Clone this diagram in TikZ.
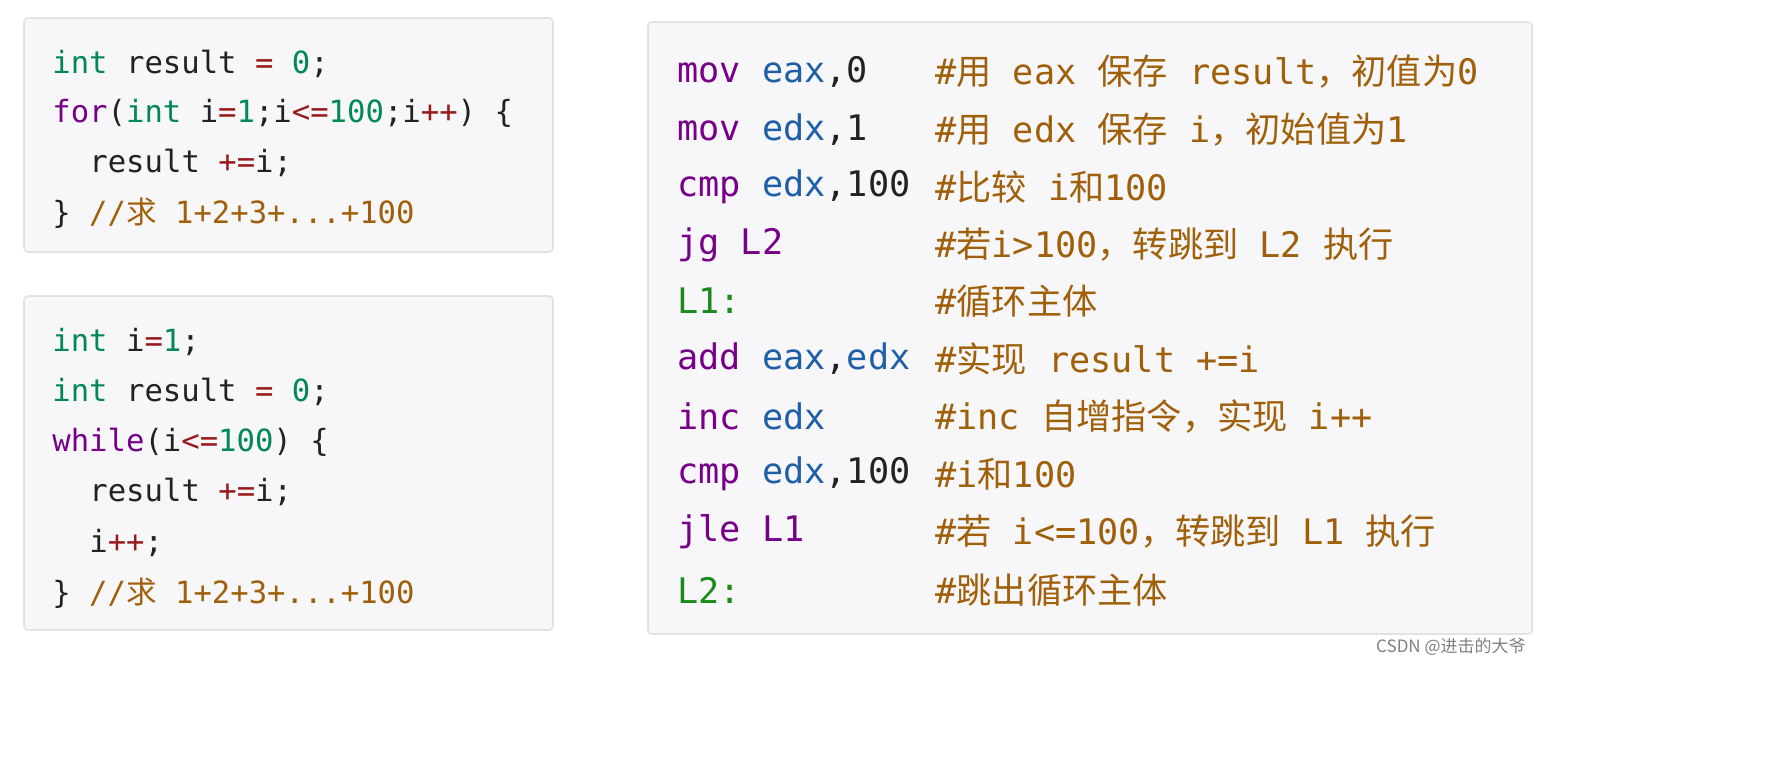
\documentclass[tikz,border=0pt]{standalone}
\usepackage{fontspec}
\setmonofont{DejaVu Sans Mono}
\newfontfamily\cjk{Noto Sans CJK SC}
\definecolor{kwcol}{HTML}{770088}
\definecolor{tycol}{HTML}{008855}
\definecolor{opcol}{HTML}{981A1A}
\definecolor{cmcol}{HTML}{A0600A}
\definecolor{rgcol}{HTML}{1F5FA8}
\definecolor{lbcol}{HTML}{1A8A1A}
\definecolor{txcol}{HTML}{222222}
\definecolor{boxfill}{HTML}{F7F7F9}
\definecolor{boxline}{HTML}{E2E2E6}
\newcommand{\kw}[1]{\textcolor{kwcol}{#1}}
\newcommand{\ty}[1]{\textcolor{tycol}{#1}}
\newcommand{\op}[1]{\textcolor{opcol}{#1}}
\newcommand{\cm}[1]{\textcolor{cmcol}{#1}}
\newcommand{\rg}[1]{\textcolor{rgcol}{#1}}
\newcommand{\lb}[1]{\textcolor{lbcol}{#1}}
\newcommand{\zh}[1]{{\cjk #1}}
\tikzset{
  codebox/.style={draw=boxline, fill=boxfill, rounded corners=2pt, line width=0.8pt},
  cline/.style={anchor=west, inner sep=0pt, text=txcol, font=\ttfamily\fontsize{15.3}{18}\selectfont},
  aline/.style={anchor=west, inner sep=0pt, text=txcol, font=\ttfamily\fontsize{17.6}{20}\selectfont}
}
\begin{document}
\begin{tikzpicture}[x=0.5pt,y=-0.5pt]
  \useasboundingbox (0,0) rectangle (1792,756);
  % boxes
  \draw[codebox] (24,18) rectangle (553,252);
  \draw[codebox] (24,296) rectangle (553,630);
  \draw[codebox] (648,22) rectangle (1532,634);

  % for loop
  \node[cline] (f1) at (52,64) {\ty{int} result \op{=} \ty{0};};
  \node[cline] (f2) at (52,113) {\kw{for}(\ty{int} i\op{=}\ty{1};i\op{<=}\ty{100};i\op{++}) \{};
  \node[cline] (f3) at (89,163) {result \op{+=}i;};
  \node[cline] (f4) at (52,213) {\} \cm{//\zh{求} 1+2+3+...+100}};

  % while loop
  \node[cline] (w1) at (52,342) {\ty{int} i\op{=}\ty{1};};
  \node[cline] (w2) at (52,392) {\ty{int} result \op{=} \ty{0};};
  \node[cline] (w3) at (52,442) {\kw{while}(i\op{<=}\ty{100}) \{};
  \node[cline] (w4) at (89,492) {result \op{+=}i;};
  \node[cline] (w5) at (89,543) {i\op{++};};
  \node[cline] (w6) at (52,593) {\} \cm{//\zh{求} 1+2+3+...+100}};

  % assembly
  \node[aline] (a1) at (677,72) {\kw{mov} \rg{eax},0};
  \node[aline] (a2) at (677,130) {\kw{mov} \rg{edx},1};
  \node[aline] (a3) at (677,187) {\kw{cmp} \rg{edx},100};
  \node[aline] (a4) at (677,245) {\kw{jg} \kw{L2}};
  \node[aline] (a5) at (677,301) {\lb{L1:}};
  \node[aline] (a6) at (677,359) {\kw{add} \rg{eax},\rg{edx}};
  \node[aline] (a7) at (677,416) {\kw{inc} \rg{edx}};
  \node[aline] (a8) at (677,474) {\kw{cmp} \rg{edx},100};
  \node[aline] (a9) at (677,532) {\kw{jle} \kw{L1}};
  \node[aline] (a10) at (677,590) {\lb{L2:}};

  \node[aline] (c1) at (935,72) {\cm{\#\zh{用} eax \zh{保存} result\zh{，初值为}0}};
  \node[aline] (c2) at (935,130) {\cm{\#\zh{用} edx \zh{保存} i\zh{，初始值为}1}};
  \node[aline] (c3) at (935,187) {\cm{\#\zh{比较} i\zh{和}100}};
  \node[aline] (c4) at (935,245) {\cm{\#\zh{若}i>100\zh{，转跳到} L2 \zh{执行}}};
  \node[aline] (c5) at (935,301) {\cm{\#\zh{循环主体}}};
  \node[aline] (c6) at (935,359) {\cm{\#\zh{实现} result +=i}};
  \node[aline] (c7) at (935,416) {\cm{\#inc \zh{自增指令，实现} i++}};
  \node[aline] (c8) at (935,474) {\cm{\#i\zh{和}100}};
  \node[aline] (c9) at (935,532) {\cm{\#\zh{若} i<=100\zh{，转跳到} L1 \zh{执行}}};
  \node[aline] (c10) at (935,590) {\cm{\#\zh{跳出循环主体}}};

  % watermark
  \node[anchor=east, inner sep=0pt, text=gray, font=\cjk\fontsize{8.5}{10}\selectfont] (mark) at (1526,647) {CSDN @进击的大爷};
\end{tikzpicture}
\end{document}
